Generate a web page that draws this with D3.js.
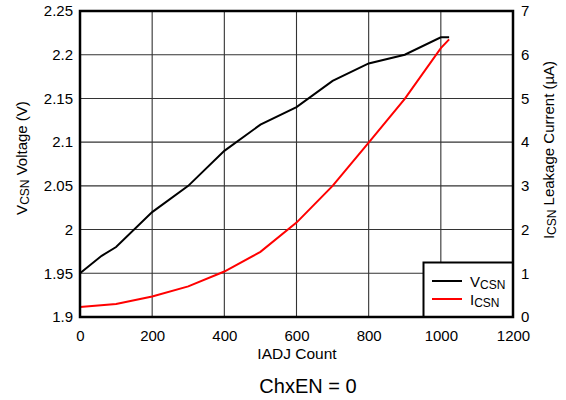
<!DOCTYPE html>
<html><head><meta charset="utf-8">
<script src="https://cdn.jsdelivr.net/npm/d3@7"></script>
<style>body{margin:0;background:#fff}svg{font-family:"Liberation Sans",Arial,Helvetica,sans-serif}</style>
</head><body><svg id="c" width="566" height="400"></svg>
<script>
const counts   = [0, 60, 100, 200, 300, 400, 500, 600, 700, 800, 900, 1000, 1023];
const vcsn     = [1.95, 1.97, 1.98, 2.02, 2.05, 2.09, 2.12, 2.14, 2.17, 2.19, 2.20, 2.22, 2.22];
const icsnX    = [0, 100, 200, 300, 400, 500, 600, 700, 800, 900, 1000, 1023];
const icsn     = [0.23, 0.30, 0.47, 0.70, 1.04, 1.49, 2.16, 3.0, 3.99, 4.99, 6.15, 6.35];
const xTicks   = [0, 200, 400, 600, 800, 1000, 1200];
const yLTicks  = [1.9, 1.95, 2.0, 2.05, 2.1, 2.15, 2.2, 2.25];
const yRTicks  = [0, 1, 2, 3, 4, 5, 6, 7];

const svg = d3.select("#c");
const L = 80, R = 513, T = 11, B = 317;
const x = d3.scaleLinear().domain([0, 1200]).range([L, R]);
const yL = d3.scaleLinear().domain([1.9, 2.25]).range([B, T]);
const yR = d3.scaleLinear().domain([0, 7]).range([B, T]);

// grid
svg.append("g").selectAll("line").data(xTicks.slice(1, -1)).join("line")
  .attr("x1", d => x(d)).attr("x2", d => x(d)).attr("y1", T).attr("y2", B)
  .attr("stroke", "#333").attr("stroke-width", 1.1);
svg.append("g").selectAll("line").data(yRTicks.slice(1, -1)).join("line")
  .attr("y1", d => yR(d)).attr("y2", d => yR(d)).attr("x1", L).attr("x2", R)
  .attr("stroke", "#333").attr("stroke-width", 1.1);

// axes (labels only)
const fmtL = d => d3.format("")(+d.toFixed(2));
const gx = svg.append("g").attr("transform", `translate(0,${B})`)
  .call(d3.axisBottom(x).tickValues(xTicks).tickSize(0).tickPadding(13).tickFormat(d3.format("d")));
const gl = svg.append("g").attr("transform", `translate(${L},0)`)
  .call(d3.axisLeft(yL).tickValues(yLTicks).tickSize(0).tickPadding(7).tickFormat(fmtL));
const gr = svg.append("g").attr("transform", `translate(${R},0)`)
  .call(d3.axisRight(yR).tickValues(yRTicks).tickSize(0).tickPadding(8).tickFormat(d3.format("d")));
[gx, gl, gr].forEach(g => {
  g.select(".domain").remove();
  g.selectAll("text").attr("font-size", 15).attr("fill", "#000")
    .attr("font-family", "Liberation Sans, Arial, sans-serif");
});

// lines
const lineV = d3.line().x((d, i) => x(counts[i])).y(d => yL(d));
const lineI = d3.line().x((d, i) => x(icsnX[i])).y(d => yR(d));
svg.append("path").attr("d", lineV(vcsn)).attr("fill", "none").attr("stroke", "#000").attr("stroke-width", 2);
svg.append("path").attr("d", lineI(icsn)).attr("fill", "none").attr("stroke", "#ff0000").attr("stroke-width", 2);

// legend
const lg = svg.append("g");
lg.append("rect").attr("x", 423.5).attr("y", 262.5).attr("width", R - 423.5).attr("height", B - 262.5)
  .attr("fill", "#fff").attr("stroke", "#000").attr("stroke-width", 2);
lg.append("line").attr("x1", 432).attr("x2", 462).attr("y1", 281).attr("y2", 281).attr("stroke", "#000").attr("stroke-width", 2);
lg.append("line").attr("x1", 432).attr("x2", 462).attr("y1", 299).attr("y2", 299).attr("stroke", "#ff0000").attr("stroke-width", 2);
const t1 = lg.append("text").attr("x", 470).attr("y", 287).attr("font-size", 15);
t1.append("tspan").text("V");
t1.append("tspan").attr("font-size", 12).attr("dy", 2).text("CSN");
const t2 = lg.append("text").attr("x", 470).attr("y", 305).attr("font-size", 15);
t2.append("tspan").text("I");
t2.append("tspan").attr("font-size", 12).attr("dy", 2).text("CSN");

// frame
svg.append("rect").attr("x", L).attr("y", T).attr("width", R - L).attr("height", B - T)
  .attr("fill", "none").attr("stroke", "#000").attr("stroke-width", 2.5);

// axis titles
svg.append("text").attr("x", 297).attr("y", 359).attr("text-anchor", "middle").attr("font-size", 15.5).text("IADJ Count");
svg.append("text").attr("x", 308).attr("y", 393).attr("text-anchor", "middle").attr("font-size", 20).text("ChxEN = 0");

const lt = svg.append("text").attr("transform", "translate(27,158) rotate(-90)").attr("text-anchor", "middle").attr("font-size", 15);
lt.append("tspan").text("V");
lt.append("tspan").attr("font-size", 12).attr("dy", 2).text("CSN");
lt.append("tspan").attr("dy", -2).text(" Voltage (V)");

const rt = svg.append("text").attr("transform", "translate(554,150) rotate(-90)").attr("text-anchor", "middle").attr("font-size", 15);
rt.append("tspan").text("I");
rt.append("tspan").attr("font-size", 12).attr("dy", 2).text("CSN");
rt.append("tspan").attr("dy", -2).text(" Leakage Current (\u00b5A)");
</script></body></html>
